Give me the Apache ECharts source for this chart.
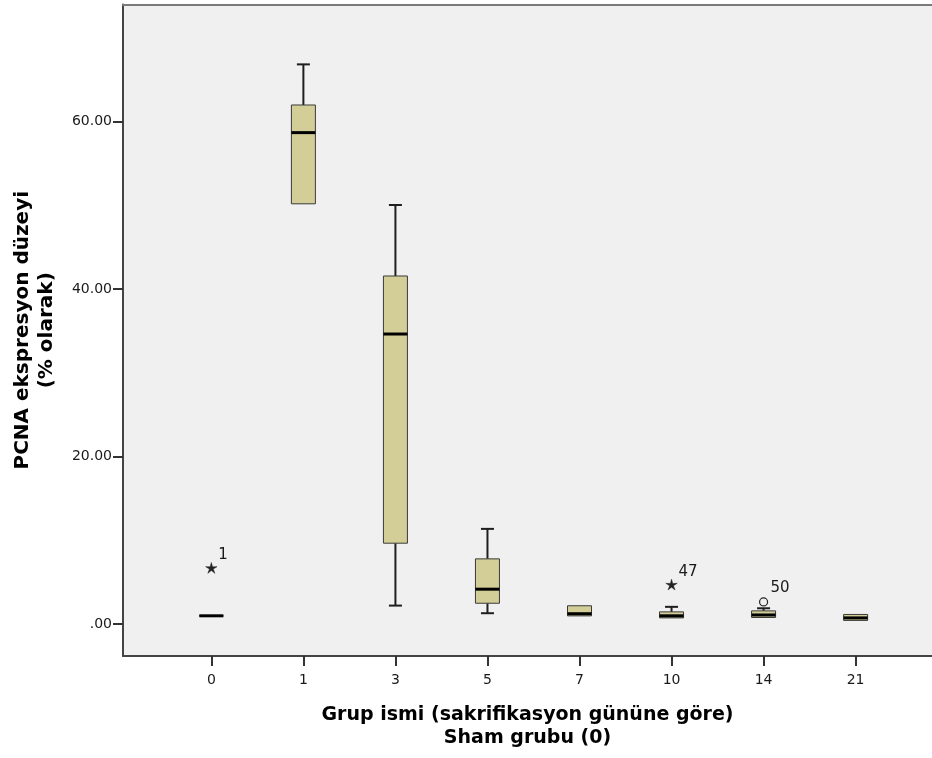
<!DOCTYPE html>
<html>
<head>
<meta charset="utf-8">
<script src="https://cdn.jsdelivr.net/npm/echarts@6/dist/echarts.min.js"></script>
<style>
  html, body { margin: 0; padding: 0; background: #ffffff; }
  #chart { width: 932px; height: 758px; }
</style>
</head>
<body>
<div id="chart"></div>
<script>
// Sacrifice-day groups (0 = sham)
const groups = ['0', '1', '3', '5', '7', '10', '14', '21'];

// Five-number summary of PCNA expression (%) per group
const whiskerLow  = [1.0, 50.2,  2.22,  1.31, 0.99, 0.75, 0.80, 0.43];
const quartile1   = [1.0, 50.2,  9.67,  2.50, 0.99, 0.75, 0.80, 0.45];
const medians     = [1.0, 58.7, 34.65,  4.18, 1.25, 1.00, 1.10, 0.75];
const quartile3   = [1.0, 62.0, 41.58,  7.80, 2.20, 1.47, 1.59, 1.16];
const whiskerHigh = [1.0, 66.85, 50.06, 11.38, 2.20, 2.07, 1.90, 1.16];

// Flagged cases: group index, value, case id, marker kind
const flaggedGroup = [0, 5, 6];
const flaggedValue = [6.65, 4.66, 2.66];
const flaggedCase  = ['1', '47', '50'];
const flaggedKind  = ['extreme', 'extreme', 'outlier'];

// Axis ticks
const yTickValues = [0, 20, 40, 60];
const xTickValues = groups.map((g, i) => i);

const FONT = 'DejaVu Sans';
const BOX_FILL = '#d3ce97';
const X_MIN = -0.96, X_MAX = 7.83;

const boxData = groups.map((g, i) => [i, whiskerLow[i], quartile1[i], medians[i], quartile3[i], whiskerHigh[i]]);
const flaggedData = flaggedGroup.map((g, k) => [g, flaggedValue[k], flaggedCase[k], flaggedKind[k]]);

function drawBox(params, api) {
  const i = api.value(0);
  const pMin = api.coord([i, api.value(1)]);
  const pQ1  = api.coord([i, api.value(2)]);
  const pMed = api.coord([i, api.value(3)]);
  const pQ3  = api.coord([i, api.value(4)]);
  const pMax = api.coord([i, api.value(5)]);
  const cx = pMed[0];
  const half = 12;
  const cap = 6.5;
  const stem = { stroke: '#1e1e1e', lineWidth: 2 };
  const children = [];
  if (pMax[1] < pQ3[1] - 0.5) {
    children.push({ type: 'line', shape: { x1: cx, y1: pQ3[1], x2: cx, y2: pMax[1] }, style: stem });
    children.push({ type: 'line', shape: { x1: cx - cap, y1: pMax[1], x2: cx + cap, y2: pMax[1] }, style: stem });
  }
  if (pMin[1] > pQ1[1] + 0.5) {
    children.push({ type: 'line', shape: { x1: cx, y1: pQ1[1], x2: cx, y2: pMin[1] }, style: stem });
    children.push({ type: 'line', shape: { x1: cx - cap, y1: pMin[1], x2: cx + cap, y2: pMin[1] }, style: stem });
  }
  children.push({
    type: 'rect',
    shape: { x: cx - half, y: pQ3[1], width: half * 2, height: pQ1[1] - pQ3[1] },
    style: { fill: BOX_FILL, stroke: '#3a3a3a', lineWidth: 1 }
  });
  children.push({
    type: 'line',
    shape: { x1: cx - half, y1: pMed[1], x2: cx + half, y2: pMed[1] },
    style: { stroke: '#000000', lineWidth: 3 }
  });
  return { type: 'group', children };
}

function starPoints(cx, cy, rOut, rIn) {
  const pts = [];
  for (let k = 0; k < 10; k++) {
    const r = k % 2 === 0 ? rOut : rIn;
    const a = -Math.PI / 2 + k * Math.PI / 5;
    pts.push([cx + r * Math.cos(a), cy + r * Math.sin(a)]);
  }
  return pts;
}

function drawFlagged(params, api) {
  const p = api.coord([api.value(0), api.value(1)]);
  const id = flaggedCase[params.dataIndex];
  const kind = flaggedKind[params.dataIndex];
  const marker = kind === 'extreme'
    ? { type: 'polygon', shape: { points: starPoints(p[0], p[1], 6, 2) }, style: { fill: '#222222', stroke: '#222222', lineWidth: 0.5 } }
    : { type: 'circle', shape: { cx: p[0], cy: p[1], r: 4 }, style: { fill: '#f0f0f0', stroke: '#222222', lineWidth: 1.2 } };
  return {
    type: 'group',
    children: [
      marker,
      {
        type: 'text',
        style: {
          x: p[0] + 7, y: p[1] - 6,
          text: id,
          fill: '#1a1a1a',
          font: '15px "' + FONT + '"',
          align: 'left',
          verticalAlign: 'bottom'
        }
      }
    ]
  };
}

const chart = echarts.init(document.getElementById('chart'), null, { renderer: 'canvas' });

const titleStyle = { fontFamily: FONT, fontWeight: 'bold', fontSize: 20, color: '#000000', lineHeight: 24 };

chart.setOption({
  backgroundColor: '#ffffff',
  animation: false,
  grid: {
    left: 123, right: 0, top: 4.5, bottom: 102,
    show: true,
    backgroundColor: '#f0f0f0',
    borderWidth: 0
  },
  xAxis: [
    {
      type: 'value',
      min: X_MIN, max: X_MAX,
      name: 'Grup ismi (sakrifikasyon gününe göre)\nSham grubu (0)',
      nameLocation: 'middle',
      nameGap: 48,
      nameTextStyle: Object.assign({}, titleStyle, { fontSize: 19, lineHeight: 23 }),
      axisLine: { show: true, onZero: false, lineStyle: { color: '#444444', width: 2 } },
      axisTick: { show: true, length: 10, customValues: xTickValues, lineStyle: { color: '#333333', width: 2 } },
      axisLabel: {
        customValues: xTickValues,
        formatter: v => groups[Math.round(v)],
        margin: 17,
        fontFamily: FONT, fontSize: 14, color: '#1a1a1a'
      },
      splitLine: { show: false }
    },
    {
      // frame line along the top of the plot
      type: 'value',
      position: 'top',
      min: X_MIN, max: X_MAX,
      axisLine: { show: true, onZero: false, lineStyle: { color: '#7a7a7a', width: 2 } },
      axisTick: { show: false },
      axisLabel: { show: false },
      splitLine: { show: false }
    }
  ],
  yAxis: {
    type: 'value',
    min: -3.8, max: 74,
    name: 'PCNA ekspresyon düzeyi\n(% olarak)',
    nameLocation: 'middle',
    nameRotate: 90,
    nameGap: 64,
    nameTextStyle: titleStyle,
    axisLine: { show: true, onZero: false, lineStyle: { color: '#444444', width: 2 } },
    axisTick: { show: true, length: 10, customValues: yTickValues, lineStyle: { color: '#333333', width: 2 } },
    axisLabel: {
      customValues: yTickValues,
      formatter: v => (v === 0 ? '.00' : v.toFixed(2)),
      margin: 11,
      fontFamily: FONT, fontSize: 14, color: '#1a1a1a'
    },
    splitLine: { show: false }
  },
  series: [
    {
      type: 'custom',
      name: 'PCNA',
      renderItem: drawBox,
      encode: { x: 0, y: [1, 2, 3, 4, 5] },
      data: boxData,
      clip: false
    },
    {
      type: 'custom',
      name: 'flagged',
      renderItem: drawFlagged,
      encode: { x: 0, y: 1 },
      data: flaggedData,
      clip: false
    }
  ]
});
</script>
</body>
</html>
